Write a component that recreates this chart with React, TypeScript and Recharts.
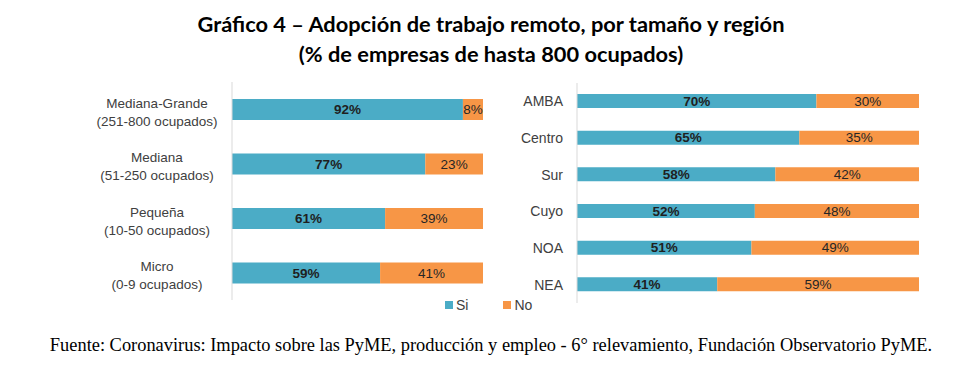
import { Bar, BarChart, LabelList, XAxis, YAxis } from "recharts"

const tamanos = ["Mediana-Grande|(251-800 ocupados)", "Mediana|(51-250 ocupados)", "Pequeña|(10-50 ocupados)", "Micro|(0-9 ocupados)"]
const tamanoSi = [92, 77, 61, 59]
const tamanoNo = [8, 23, 39, 41]

const regiones = ["AMBA", "Centro", "Sur", "Cuyo", "NOA", "NEA"]
const regionSi = [70, 65, 58, 52, 51, 41]
const regionNo = [30, 35, 42, 48, 49, 59]

const BLUE = "#4bacc6"
const ORANGE = "#f79646"
const LABEL_FONT = "'Liberation Sans', Arial, sans-serif"

const tamanoData = tamanos.map((name, i) => ({ name, si: tamanoSi[i], no: tamanoNo[i] }))
const regionData = regiones.map((name, i) => ({ name, si: regionSi[i], no: regionNo[i] }))

const pct = (v: unknown) => `${v}%`

function TwoLineTick(props: any) {
  const { x, y, payload } = props
  const [a, b] = String(payload.value).split("|")
  return (
    <text x={x - 61} y={y} textAnchor="middle" fontSize={13.5} fill="#404040" fontFamily={LABEL_FONT}>
      <tspan x={x - 61} dy={-1.5}>{a}</tspan>
      <tspan x={x - 61} dy={18}>{b}</tspan>
    </text>
  )
}

function StackedBars({ data, width, height, yWidth, barSize, margin, tick }: any) {
  return (
    <BarChart layout="vertical" data={data} width={width} height={height} margin={margin} barCategoryGap={0}>
      <XAxis type="number" domain={[0, 100]} hide />
      <YAxis
        type="category"
        dataKey="name"
        width={yWidth}
        axisLine={{ stroke: "#d9d9d9" }}
        tickLine={false}
        tick={tick ?? { fontSize: 14, fill: "#404040", fontFamily: LABEL_FONT }}
        tickMargin={8}
        interval={0}
      />
      <Bar dataKey="si" stackId="a" fill={BLUE} barSize={barSize} isAnimationActive={false}>
        <LabelList dataKey="si" position="center" formatter={pct} fill="#1f1f1f" fontWeight="bold" fontSize={13.5} fontFamily={LABEL_FONT} />
      </Bar>
      <Bar dataKey="no" stackId="a" fill={ORANGE} barSize={barSize} isAnimationActive={false}>
        <LabelList dataKey="no" position="center" formatter={pct} fill="#262626" fontSize={13.5} fontFamily={LABEL_FONT} />
      </Bar>
    </BarChart>
  )
}

export default function App() {
  return (
    <div style={{ position: "absolute", left: 0, top: 0, width: 967, height: 387, background: "#fff", overflow: "hidden" }}>
      <div
        style={{
          position: "absolute",
          left: 0,
          top: 9,
          width: 982,
          textAlign: "center",
          fontFamily: "Lato, 'Open Sans', sans-serif",
          fontWeight: "bold",
          fontSize: 21.8,
          lineHeight: "30px",
          color: "#000",
        }}
      >
        <div>Gráfico 4 – Adopción de trabajo remoto, por tamaño y región</div>
        <div>(% de empresas de hasta 800 ocupados)</div>
      </div>

      <div style={{ position: "absolute", left: 0, top: 80 }}>
        <StackedBars
          data={tamanoData}
          width={490}
          height={225}
          yWidth={232}
          barSize={21}
          margin={{ top: 2, right: 7, bottom: 5, left: 0 }}
          tick={<TwoLineTick />}
        />
      </div>

      <div style={{ position: "absolute", left: 490, top: 80 }}>
        <StackedBars
          data={regionData}
          width={440}
          height={230}
          yWidth={87}
          barSize={14}
          margin={{ top: 3, right: 11, bottom: 7, left: 0 }}
        />
      </div>

      <div
        style={{
          position: "absolute",
          left: 445,
          top: 297,
          display: "flex",
          gap: 35,
          fontFamily: LABEL_FONT,
          fontSize: 14,
          color: "#404040",
          lineHeight: "16px",
        }}
      >
        {[
          { name: "Si", color: BLUE },
          { name: "No", color: ORANGE },
        ].map((item) => (
          <div key={item.name} style={{ display: "flex", alignItems: "center", gap: 3 }}>
            <span style={{ display: "inline-block", width: 8, height: 8, background: item.color }} />
            <span>{item.name}</span>
          </div>
        ))}
      </div>

      <div
        style={{
          position: "absolute",
          left: 0,
          top: 335,
          width: 982,
          textAlign: "center",
          fontFamily: "'Liberation Serif', 'Times New Roman', serif",
          fontSize: 18.4,
          color: "#000",
        }}
      >
        Fuente: Coronavirus: Impacto sobre las PyME, producción y empleo - 6° relevamiento, Fundación Observatorio PyME.
      </div>
    </div>
  )
}
